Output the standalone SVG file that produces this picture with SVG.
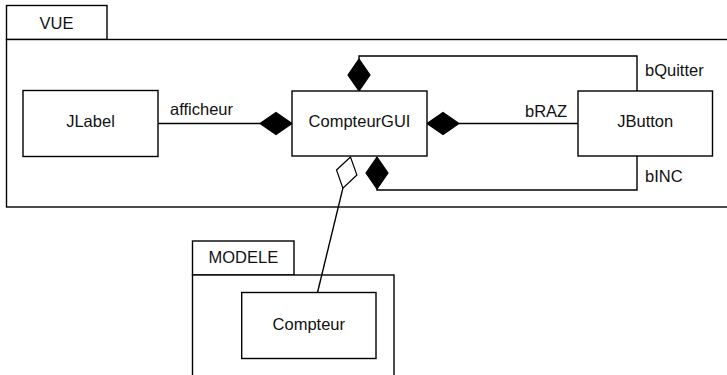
<svg xmlns="http://www.w3.org/2000/svg" width="727" height="375" viewBox="0 0 727 375">
<style>
.b{fill:#fff;stroke:#000;stroke-width:1.4}
.l{fill:none;stroke:#000;stroke-width:1.4}
.d{fill:#000;stroke:#000;stroke-width:1.2}
.h{fill:#fff;stroke:#000;stroke-width:1.2}
text{font-family:"Liberation Sans",Arial,sans-serif;font-size:16.5px;fill:#111}
.c{text-anchor:middle}
</style>
<rect width="727" height="375" fill="#fff"/>
<g id="pkg-vue">
<rect class="b" x="6.5" y="5.5" width="100.5" height="34"/>
<rect class="b" x="6.5" y="39.5" width="730" height="167.5"/>
<text x="56.5" y="28.5" class="c">VUE</text>
</g>
<g id="pkg-modele">
<rect class="b" x="192.5" y="241" width="101.5" height="34"/>
<rect class="b" x="192.5" y="275" width="201.5" height="110"/>
<text x="243.3" y="263.3" class="c">MODELE</text>
</g>
<g id="connectors">
<line class="l" x1="158" y1="123.5" x2="260" y2="123.5"/>
<polygon class="d" points="260,123.5 276,112.5 292,123.5 276,134.5"/>
<text x="170" y="115">afficheur</text>
<line class="l" x1="459" y1="123.5" x2="578" y2="123.5"/>
<polygon class="d" points="427,123.5 443,112.5 459,123.5 443,134.5"/>
<text x="525" y="117">bRAZ</text>
<polyline class="l" points="359,59 359,56 637,56 637,91"/>
<polygon class="d" points="359,91 348,75 359,59 370,75"/>
<text x="645" y="76">bQuitter</text>
<polyline class="l" points="377,189 377,190 637,190 637,156"/>
<polygon class="d" points="377,157 366,173 377,189 388,173"/>
<text x="645" y="182">bINC</text>
<line class="l" x1="342.9" y1="188.1" x2="317.5" y2="292.5"/>
<polygon class="h" points="350.5,157 336.5,170 342.9,188.1 356.9,175"/>
</g>
<g id="jlabel">
<rect class="b" x="23" y="90.5" width="135" height="66"/>
<text x="90.5" y="127" class="c">JLabel</text>
</g>
<g id="compteurgui">
<rect class="b" x="292" y="91" width="135" height="65"/>
<text x="359.5" y="127" class="c">CompteurGUI</text>
</g>
<g id="jbutton">
<rect class="b" x="578" y="91" width="134.5" height="65"/>
<text x="645.2" y="127" class="c">JButton</text>
</g>
<g id="compteur">
<rect class="b" x="241.7" y="292.5" width="134.3" height="66"/>
<text x="308.8" y="329.5" class="c">Compteur</text>
</g>
</svg>
